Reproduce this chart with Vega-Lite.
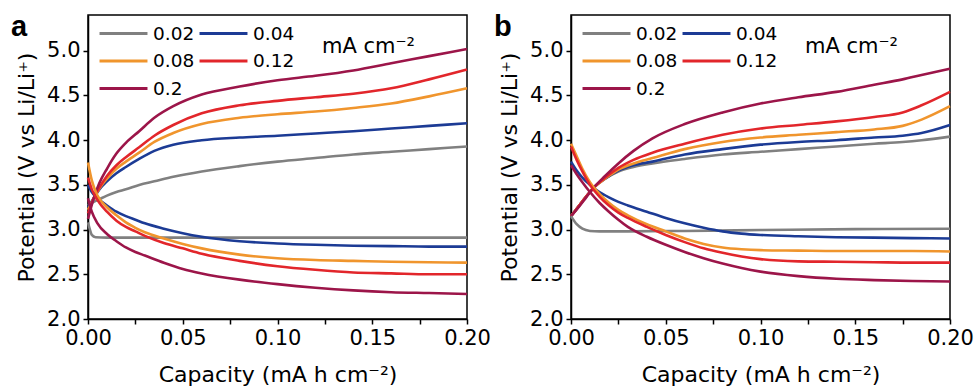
{
  "$schema": "https://vega.github.io/schema/vega-lite/v6.json",
  "padding": {"left": 10, "top": 12, "right": 10, "bottom": 4},
  "bounds": "flush",
  "spacing": 104,
  "datasets": {
    "curves": [
      {"panel":"a","rate":"0.02","branch":"charge","cap":0,"volt":3.27},
      {"panel":"a","rate":"0.02","branch":"charge","cap":0.003,"volt":3.31},
      {"panel":"a","rate":"0.02","branch":"charge","cap":0.006,"volt":3.34},
      {"panel":"a","rate":"0.02","branch":"charge","cap":0.01,"volt":3.38},
      {"panel":"a","rate":"0.02","branch":"charge","cap":0.015,"volt":3.42},
      {"panel":"a","rate":"0.02","branch":"charge","cap":0.02,"volt":3.45},
      {"panel":"a","rate":"0.02","branch":"charge","cap":0.027,"volt":3.5},
      {"panel":"a","rate":"0.02","branch":"charge","cap":0.035,"volt":3.54},
      {"panel":"a","rate":"0.02","branch":"charge","cap":0.045,"volt":3.59},
      {"panel":"a","rate":"0.02","branch":"charge","cap":0.06,"volt":3.65},
      {"panel":"a","rate":"0.02","branch":"charge","cap":0.08,"volt":3.71},
      {"panel":"a","rate":"0.02","branch":"charge","cap":0.1,"volt":3.76},
      {"panel":"a","rate":"0.02","branch":"charge","cap":0.12,"volt":3.8},
      {"panel":"a","rate":"0.02","branch":"charge","cap":0.14,"volt":3.84},
      {"panel":"a","rate":"0.02","branch":"charge","cap":0.16,"volt":3.87},
      {"panel":"a","rate":"0.02","branch":"charge","cap":0.18,"volt":3.9},
      {"panel":"a","rate":"0.02","branch":"charge","cap":0.2,"volt":3.93},

      {"panel":"a","rate":"0.04","branch":"charge","cap":0,"volt":3.25},
      {"panel":"a","rate":"0.04","branch":"charge","cap":0.003,"volt":3.35},
      {"panel":"a","rate":"0.04","branch":"charge","cap":0.006,"volt":3.45},
      {"panel":"a","rate":"0.04","branch":"charge","cap":0.01,"volt":3.54},
      {"panel":"a","rate":"0.04","branch":"charge","cap":0.015,"volt":3.63},
      {"panel":"a","rate":"0.04","branch":"charge","cap":0.02,"volt":3.7},
      {"panel":"a","rate":"0.04","branch":"charge","cap":0.027,"volt":3.79},
      {"panel":"a","rate":"0.04","branch":"charge","cap":0.035,"volt":3.88},
      {"panel":"a","rate":"0.04","branch":"charge","cap":0.045,"volt":3.95},
      {"panel":"a","rate":"0.04","branch":"charge","cap":0.06,"volt":4.0},
      {"panel":"a","rate":"0.04","branch":"charge","cap":0.08,"volt":4.03},
      {"panel":"a","rate":"0.04","branch":"charge","cap":0.1,"volt":4.05},
      {"panel":"a","rate":"0.04","branch":"charge","cap":0.12,"volt":4.075},
      {"panel":"a","rate":"0.04","branch":"charge","cap":0.14,"volt":4.1},
      {"panel":"a","rate":"0.04","branch":"charge","cap":0.16,"volt":4.13},
      {"panel":"a","rate":"0.04","branch":"charge","cap":0.18,"volt":4.16},
      {"panel":"a","rate":"0.04","branch":"charge","cap":0.2,"volt":4.19},

      {"panel":"a","rate":"0.08","branch":"charge","cap":0,"volt":3.22},
      {"panel":"a","rate":"0.08","branch":"charge","cap":0.003,"volt":3.35},
      {"panel":"a","rate":"0.08","branch":"charge","cap":0.006,"volt":3.46},
      {"panel":"a","rate":"0.08","branch":"charge","cap":0.01,"volt":3.57},
      {"panel":"a","rate":"0.08","branch":"charge","cap":0.015,"volt":3.68},
      {"panel":"a","rate":"0.08","branch":"charge","cap":0.02,"volt":3.76},
      {"panel":"a","rate":"0.08","branch":"charge","cap":0.027,"volt":3.86},
      {"panel":"a","rate":"0.08","branch":"charge","cap":0.035,"volt":3.98},
      {"panel":"a","rate":"0.08","branch":"charge","cap":0.045,"volt":4.08},
      {"panel":"a","rate":"0.08","branch":"charge","cap":0.06,"volt":4.18},
      {"panel":"a","rate":"0.08","branch":"charge","cap":0.08,"volt":4.25},
      {"panel":"a","rate":"0.08","branch":"charge","cap":0.1,"volt":4.29},
      {"panel":"a","rate":"0.08","branch":"charge","cap":0.12,"volt":4.32},
      {"panel":"a","rate":"0.08","branch":"charge","cap":0.14,"volt":4.36},
      {"panel":"a","rate":"0.08","branch":"charge","cap":0.16,"volt":4.41},
      {"panel":"a","rate":"0.08","branch":"charge","cap":0.18,"volt":4.49},
      {"panel":"a","rate":"0.08","branch":"charge","cap":0.2,"volt":4.58},

      {"panel":"a","rate":"0.12","branch":"charge","cap":0,"volt":3.18},
      {"panel":"a","rate":"0.12","branch":"charge","cap":0.003,"volt":3.35},
      {"panel":"a","rate":"0.12","branch":"charge","cap":0.006,"volt":3.47},
      {"panel":"a","rate":"0.12","branch":"charge","cap":0.01,"volt":3.6},
      {"panel":"a","rate":"0.12","branch":"charge","cap":0.015,"volt":3.72},
      {"panel":"a","rate":"0.12","branch":"charge","cap":0.02,"volt":3.81},
      {"panel":"a","rate":"0.12","branch":"charge","cap":0.027,"volt":3.92},
      {"panel":"a","rate":"0.12","branch":"charge","cap":0.035,"volt":4.05},
      {"panel":"a","rate":"0.12","branch":"charge","cap":0.045,"volt":4.17},
      {"panel":"a","rate":"0.12","branch":"charge","cap":0.06,"volt":4.3},
      {"panel":"a","rate":"0.12","branch":"charge","cap":0.08,"volt":4.39},
      {"panel":"a","rate":"0.12","branch":"charge","cap":0.1,"volt":4.44},
      {"panel":"a","rate":"0.12","branch":"charge","cap":0.12,"volt":4.48},
      {"panel":"a","rate":"0.12","branch":"charge","cap":0.14,"volt":4.52},
      {"panel":"a","rate":"0.12","branch":"charge","cap":0.16,"volt":4.58},
      {"panel":"a","rate":"0.12","branch":"charge","cap":0.18,"volt":4.68},
      {"panel":"a","rate":"0.12","branch":"charge","cap":0.2,"volt":4.79},

      {"panel":"a","rate":"0.2","branch":"charge","cap":0,"volt":3.12},
      {"panel":"a","rate":"0.2","branch":"charge","cap":0.003,"volt":3.35},
      {"panel":"a","rate":"0.2","branch":"charge","cap":0.006,"volt":3.52},
      {"panel":"a","rate":"0.2","branch":"charge","cap":0.01,"volt":3.68},
      {"panel":"a","rate":"0.2","branch":"charge","cap":0.015,"volt":3.85},
      {"panel":"a","rate":"0.2","branch":"charge","cap":0.02,"volt":3.97},
      {"panel":"a","rate":"0.2","branch":"charge","cap":0.027,"volt":4.1},
      {"panel":"a","rate":"0.2","branch":"charge","cap":0.035,"volt":4.25},
      {"panel":"a","rate":"0.2","branch":"charge","cap":0.045,"volt":4.38},
      {"panel":"a","rate":"0.2","branch":"charge","cap":0.06,"volt":4.51},
      {"panel":"a","rate":"0.2","branch":"charge","cap":0.08,"volt":4.6},
      {"panel":"a","rate":"0.2","branch":"charge","cap":0.1,"volt":4.67},
      {"panel":"a","rate":"0.2","branch":"charge","cap":0.12,"volt":4.72},
      {"panel":"a","rate":"0.2","branch":"charge","cap":0.14,"volt":4.78},
      {"panel":"a","rate":"0.2","branch":"charge","cap":0.16,"volt":4.86},
      {"panel":"a","rate":"0.2","branch":"charge","cap":0.18,"volt":4.94},
      {"panel":"a","rate":"0.2","branch":"charge","cap":0.2,"volt":5.02},

      {"panel":"a","rate":"0.02","branch":"discharge","cap":0,"volt":3.08},
      {"panel":"a","rate":"0.02","branch":"discharge","cap":0.001,"volt":3.0},
      {"panel":"a","rate":"0.02","branch":"discharge","cap":0.002,"volt":2.94},
      {"panel":"a","rate":"0.02","branch":"discharge","cap":0.004,"volt":2.915},
      {"panel":"a","rate":"0.02","branch":"discharge","cap":0.01,"volt":2.91},
      {"panel":"a","rate":"0.02","branch":"discharge","cap":0.05,"volt":2.91},
      {"panel":"a","rate":"0.02","branch":"discharge","cap":0.1,"volt":2.91},
      {"panel":"a","rate":"0.02","branch":"discharge","cap":0.15,"volt":2.91},
      {"panel":"a","rate":"0.02","branch":"discharge","cap":0.2,"volt":2.91},

      {"panel":"a","rate":"0.04","branch":"discharge","cap":0,"volt":3.5},
      {"panel":"a","rate":"0.04","branch":"discharge","cap":0.002,"volt":3.42},
      {"panel":"a","rate":"0.04","branch":"discharge","cap":0.005,"volt":3.35},
      {"panel":"a","rate":"0.04","branch":"discharge","cap":0.01,"volt":3.27},
      {"panel":"a","rate":"0.04","branch":"discharge","cap":0.015,"volt":3.2},
      {"panel":"a","rate":"0.04","branch":"discharge","cap":0.02,"volt":3.15},
      {"panel":"a","rate":"0.04","branch":"discharge","cap":0.025,"volt":3.11},
      {"panel":"a","rate":"0.04","branch":"discharge","cap":0.03,"volt":3.07},
      {"panel":"a","rate":"0.04","branch":"discharge","cap":0.04,"volt":3.01},
      {"panel":"a","rate":"0.04","branch":"discharge","cap":0.05,"volt":2.96},
      {"panel":"a","rate":"0.04","branch":"discharge","cap":0.06,"volt":2.92},
      {"panel":"a","rate":"0.04","branch":"discharge","cap":0.08,"volt":2.87},
      {"panel":"a","rate":"0.04","branch":"discharge","cap":0.1,"volt":2.845},
      {"panel":"a","rate":"0.04","branch":"discharge","cap":0.12,"volt":2.83},
      {"panel":"a","rate":"0.04","branch":"discharge","cap":0.14,"volt":2.82},
      {"panel":"a","rate":"0.04","branch":"discharge","cap":0.16,"volt":2.815},
      {"panel":"a","rate":"0.04","branch":"discharge","cap":0.18,"volt":2.81},
      {"panel":"a","rate":"0.04","branch":"discharge","cap":0.2,"volt":2.81},

      {"panel":"a","rate":"0.08","branch":"discharge","cap":0,"volt":3.75},
      {"panel":"a","rate":"0.08","branch":"discharge","cap":0.002,"volt":3.55},
      {"panel":"a","rate":"0.08","branch":"discharge","cap":0.005,"volt":3.38},
      {"panel":"a","rate":"0.08","branch":"discharge","cap":0.01,"volt":3.25},
      {"panel":"a","rate":"0.08","branch":"discharge","cap":0.015,"volt":3.16},
      {"panel":"a","rate":"0.08","branch":"discharge","cap":0.02,"volt":3.08},
      {"panel":"a","rate":"0.08","branch":"discharge","cap":0.025,"volt":3.02},
      {"panel":"a","rate":"0.08","branch":"discharge","cap":0.03,"volt":2.97},
      {"panel":"a","rate":"0.08","branch":"discharge","cap":0.04,"volt":2.9},
      {"panel":"a","rate":"0.08","branch":"discharge","cap":0.05,"volt":2.84},
      {"panel":"a","rate":"0.08","branch":"discharge","cap":0.06,"volt":2.79},
      {"panel":"a","rate":"0.08","branch":"discharge","cap":0.08,"volt":2.72},
      {"panel":"a","rate":"0.08","branch":"discharge","cap":0.1,"volt":2.68},
      {"panel":"a","rate":"0.08","branch":"discharge","cap":0.12,"volt":2.66},
      {"panel":"a","rate":"0.08","branch":"discharge","cap":0.14,"volt":2.65},
      {"panel":"a","rate":"0.08","branch":"discharge","cap":0.16,"volt":2.64},
      {"panel":"a","rate":"0.08","branch":"discharge","cap":0.18,"volt":2.635},
      {"panel":"a","rate":"0.08","branch":"discharge","cap":0.2,"volt":2.63},

      {"panel":"a","rate":"0.12","branch":"discharge","cap":0,"volt":3.58},
      {"panel":"a","rate":"0.12","branch":"discharge","cap":0.002,"volt":3.45},
      {"panel":"a","rate":"0.12","branch":"discharge","cap":0.005,"volt":3.33},
      {"panel":"a","rate":"0.12","branch":"discharge","cap":0.01,"volt":3.2},
      {"panel":"a","rate":"0.12","branch":"discharge","cap":0.015,"volt":3.1},
      {"panel":"a","rate":"0.12","branch":"discharge","cap":0.02,"volt":3.03},
      {"panel":"a","rate":"0.12","branch":"discharge","cap":0.025,"volt":2.98},
      {"panel":"a","rate":"0.12","branch":"discharge","cap":0.03,"volt":2.93},
      {"panel":"a","rate":"0.12","branch":"discharge","cap":0.04,"volt":2.85},
      {"panel":"a","rate":"0.12","branch":"discharge","cap":0.05,"volt":2.79},
      {"panel":"a","rate":"0.12","branch":"discharge","cap":0.06,"volt":2.73},
      {"panel":"a","rate":"0.12","branch":"discharge","cap":0.08,"volt":2.65},
      {"panel":"a","rate":"0.12","branch":"discharge","cap":0.1,"volt":2.59},
      {"panel":"a","rate":"0.12","branch":"discharge","cap":0.12,"volt":2.55},
      {"panel":"a","rate":"0.12","branch":"discharge","cap":0.14,"volt":2.52},
      {"panel":"a","rate":"0.12","branch":"discharge","cap":0.16,"volt":2.51},
      {"panel":"a","rate":"0.12","branch":"discharge","cap":0.18,"volt":2.5},
      {"panel":"a","rate":"0.12","branch":"discharge","cap":0.2,"volt":2.5},

      {"panel":"a","rate":"0.2","branch":"discharge","cap":0,"volt":3.35},
      {"panel":"a","rate":"0.2","branch":"discharge","cap":0.002,"volt":3.2},
      {"panel":"a","rate":"0.2","branch":"discharge","cap":0.005,"volt":3.07},
      {"panel":"a","rate":"0.2","branch":"discharge","cap":0.01,"volt":2.95},
      {"panel":"a","rate":"0.2","branch":"discharge","cap":0.015,"volt":2.87},
      {"panel":"a","rate":"0.2","branch":"discharge","cap":0.02,"volt":2.8},
      {"panel":"a","rate":"0.2","branch":"discharge","cap":0.025,"volt":2.75},
      {"panel":"a","rate":"0.2","branch":"discharge","cap":0.03,"volt":2.71},
      {"panel":"a","rate":"0.2","branch":"discharge","cap":0.04,"volt":2.63},
      {"panel":"a","rate":"0.2","branch":"discharge","cap":0.05,"volt":2.56},
      {"panel":"a","rate":"0.2","branch":"discharge","cap":0.06,"volt":2.51},
      {"panel":"a","rate":"0.2","branch":"discharge","cap":0.08,"volt":2.44},
      {"panel":"a","rate":"0.2","branch":"discharge","cap":0.1,"volt":2.39},
      {"panel":"a","rate":"0.2","branch":"discharge","cap":0.12,"volt":2.35},
      {"panel":"a","rate":"0.2","branch":"discharge","cap":0.14,"volt":2.32},
      {"panel":"a","rate":"0.2","branch":"discharge","cap":0.16,"volt":2.3},
      {"panel":"a","rate":"0.2","branch":"discharge","cap":0.18,"volt":2.29},
      {"panel":"a","rate":"0.2","branch":"discharge","cap":0.2,"volt":2.28},

      {"panel":"b","rate":"0.02","branch":"charge","cap":0,"volt":3.15},
      {"panel":"b","rate":"0.02","branch":"charge","cap":0.004,"volt":3.26},
      {"panel":"b","rate":"0.02","branch":"charge","cap":0.008,"volt":3.37},
      {"panel":"b","rate":"0.02","branch":"charge","cap":0.012,"volt":3.47},
      {"panel":"b","rate":"0.02","branch":"charge","cap":0.018,"volt":3.57},
      {"panel":"b","rate":"0.02","branch":"charge","cap":0.025,"volt":3.65},
      {"panel":"b","rate":"0.02","branch":"charge","cap":0.033,"volt":3.7},
      {"panel":"b","rate":"0.02","branch":"charge","cap":0.043,"volt":3.74},
      {"panel":"b","rate":"0.02","branch":"charge","cap":0.06,"volt":3.79},
      {"panel":"b","rate":"0.02","branch":"charge","cap":0.08,"volt":3.84},
      {"panel":"b","rate":"0.02","branch":"charge","cap":0.1,"volt":3.87},
      {"panel":"b","rate":"0.02","branch":"charge","cap":0.12,"volt":3.9},
      {"panel":"b","rate":"0.02","branch":"charge","cap":0.14,"volt":3.93},
      {"panel":"b","rate":"0.02","branch":"charge","cap":0.16,"volt":3.96},
      {"panel":"b","rate":"0.02","branch":"charge","cap":0.175,"volt":3.98},
      {"panel":"b","rate":"0.02","branch":"charge","cap":0.185,"volt":4.0},
      {"panel":"b","rate":"0.02","branch":"charge","cap":0.2,"volt":4.04},

      {"panel":"b","rate":"0.04","branch":"charge","cap":0,"volt":3.15},
      {"panel":"b","rate":"0.04","branch":"charge","cap":0.004,"volt":3.26},
      {"panel":"b","rate":"0.04","branch":"charge","cap":0.008,"volt":3.37},
      {"panel":"b","rate":"0.04","branch":"charge","cap":0.012,"volt":3.47},
      {"panel":"b","rate":"0.04","branch":"charge","cap":0.018,"volt":3.57},
      {"panel":"b","rate":"0.04","branch":"charge","cap":0.025,"volt":3.66},
      {"panel":"b","rate":"0.04","branch":"charge","cap":0.033,"volt":3.72},
      {"panel":"b","rate":"0.04","branch":"charge","cap":0.043,"volt":3.76},
      {"panel":"b","rate":"0.04","branch":"charge","cap":0.06,"volt":3.84},
      {"panel":"b","rate":"0.04","branch":"charge","cap":0.08,"volt":3.9},
      {"panel":"b","rate":"0.04","branch":"charge","cap":0.1,"volt":3.95},
      {"panel":"b","rate":"0.04","branch":"charge","cap":0.12,"volt":3.98},
      {"panel":"b","rate":"0.04","branch":"charge","cap":0.14,"volt":4.0},
      {"panel":"b","rate":"0.04","branch":"charge","cap":0.16,"volt":4.03},
      {"panel":"b","rate":"0.04","branch":"charge","cap":0.175,"volt":4.05},
      {"panel":"b","rate":"0.04","branch":"charge","cap":0.185,"volt":4.08},
      {"panel":"b","rate":"0.04","branch":"charge","cap":0.2,"volt":4.17},

      {"panel":"b","rate":"0.08","branch":"charge","cap":0,"volt":3.15},
      {"panel":"b","rate":"0.08","branch":"charge","cap":0.004,"volt":3.26},
      {"panel":"b","rate":"0.08","branch":"charge","cap":0.008,"volt":3.37},
      {"panel":"b","rate":"0.08","branch":"charge","cap":0.012,"volt":3.47},
      {"panel":"b","rate":"0.08","branch":"charge","cap":0.018,"volt":3.57},
      {"panel":"b","rate":"0.08","branch":"charge","cap":0.025,"volt":3.67},
      {"panel":"b","rate":"0.08","branch":"charge","cap":0.033,"volt":3.74},
      {"panel":"b","rate":"0.08","branch":"charge","cap":0.043,"volt":3.8},
      {"panel":"b","rate":"0.08","branch":"charge","cap":0.06,"volt":3.9},
      {"panel":"b","rate":"0.08","branch":"charge","cap":0.08,"volt":3.98},
      {"panel":"b","rate":"0.08","branch":"charge","cap":0.1,"volt":4.03},
      {"panel":"b","rate":"0.08","branch":"charge","cap":0.12,"volt":4.06},
      {"panel":"b","rate":"0.08","branch":"charge","cap":0.14,"volt":4.09},
      {"panel":"b","rate":"0.08","branch":"charge","cap":0.16,"volt":4.12},
      {"panel":"b","rate":"0.08","branch":"charge","cap":0.175,"volt":4.16},
      {"panel":"b","rate":"0.08","branch":"charge","cap":0.185,"volt":4.23},
      {"panel":"b","rate":"0.08","branch":"charge","cap":0.2,"volt":4.38},

      {"panel":"b","rate":"0.12","branch":"charge","cap":0,"volt":3.15},
      {"panel":"b","rate":"0.12","branch":"charge","cap":0.004,"volt":3.26},
      {"panel":"b","rate":"0.12","branch":"charge","cap":0.008,"volt":3.37},
      {"panel":"b","rate":"0.12","branch":"charge","cap":0.012,"volt":3.47},
      {"panel":"b","rate":"0.12","branch":"charge","cap":0.018,"volt":3.58},
      {"panel":"b","rate":"0.12","branch":"charge","cap":0.025,"volt":3.69},
      {"panel":"b","rate":"0.12","branch":"charge","cap":0.033,"volt":3.78},
      {"panel":"b","rate":"0.12","branch":"charge","cap":0.043,"volt":3.86},
      {"panel":"b","rate":"0.12","branch":"charge","cap":0.06,"volt":3.96},
      {"panel":"b","rate":"0.12","branch":"charge","cap":0.08,"volt":4.06},
      {"panel":"b","rate":"0.12","branch":"charge","cap":0.1,"volt":4.13},
      {"panel":"b","rate":"0.12","branch":"charge","cap":0.12,"volt":4.17},
      {"panel":"b","rate":"0.12","branch":"charge","cap":0.14,"volt":4.21},
      {"panel":"b","rate":"0.12","branch":"charge","cap":0.16,"volt":4.26},
      {"panel":"b","rate":"0.12","branch":"charge","cap":0.175,"volt":4.31},
      {"panel":"b","rate":"0.12","branch":"charge","cap":0.185,"volt":4.39},
      {"panel":"b","rate":"0.12","branch":"charge","cap":0.2,"volt":4.54},

      {"panel":"b","rate":"0.2","branch":"charge","cap":0,"volt":3.15},
      {"panel":"b","rate":"0.2","branch":"charge","cap":0.004,"volt":3.25},
      {"panel":"b","rate":"0.2","branch":"charge","cap":0.008,"volt":3.36},
      {"panel":"b","rate":"0.2","branch":"charge","cap":0.012,"volt":3.47},
      {"panel":"b","rate":"0.2","branch":"charge","cap":0.018,"volt":3.6},
      {"panel":"b","rate":"0.2","branch":"charge","cap":0.025,"volt":3.74},
      {"panel":"b","rate":"0.2","branch":"charge","cap":0.033,"volt":3.88},
      {"panel":"b","rate":"0.2","branch":"charge","cap":0.043,"volt":4.02},
      {"panel":"b","rate":"0.2","branch":"charge","cap":0.06,"volt":4.18},
      {"panel":"b","rate":"0.2","branch":"charge","cap":0.08,"volt":4.31},
      {"panel":"b","rate":"0.2","branch":"charge","cap":0.1,"volt":4.41},
      {"panel":"b","rate":"0.2","branch":"charge","cap":0.12,"volt":4.48},
      {"panel":"b","rate":"0.2","branch":"charge","cap":0.14,"volt":4.54},
      {"panel":"b","rate":"0.2","branch":"charge","cap":0.16,"volt":4.62},
      {"panel":"b","rate":"0.2","branch":"charge","cap":0.175,"volt":4.68},
      {"panel":"b","rate":"0.2","branch":"charge","cap":0.185,"volt":4.73},
      {"panel":"b","rate":"0.2","branch":"charge","cap":0.2,"volt":4.8},

      {"panel":"b","rate":"0.02","branch":"discharge","cap":0,"volt":3.15},
      {"panel":"b","rate":"0.02","branch":"discharge","cap":0.003,"volt":3.06},
      {"panel":"b","rate":"0.02","branch":"discharge","cap":0.006,"volt":3.01},
      {"panel":"b","rate":"0.02","branch":"discharge","cap":0.01,"volt":2.985},
      {"panel":"b","rate":"0.02","branch":"discharge","cap":0.015,"volt":2.98},
      {"panel":"b","rate":"0.02","branch":"discharge","cap":0.03,"volt":2.98},
      {"panel":"b","rate":"0.02","branch":"discharge","cap":0.06,"volt":2.985},
      {"panel":"b","rate":"0.02","branch":"discharge","cap":0.1,"volt":2.995},
      {"panel":"b","rate":"0.02","branch":"discharge","cap":0.15,"volt":3.005},
      {"panel":"b","rate":"0.02","branch":"discharge","cap":0.2,"volt":3.01},

      {"panel":"b","rate":"0.04","branch":"discharge","cap":0,"volt":3.76},
      {"panel":"b","rate":"0.04","branch":"discharge","cap":0.003,"volt":3.66},
      {"panel":"b","rate":"0.04","branch":"discharge","cap":0.006,"volt":3.58},
      {"panel":"b","rate":"0.04","branch":"discharge","cap":0.01,"volt":3.5},
      {"panel":"b","rate":"0.04","branch":"discharge","cap":0.015,"volt":3.42},
      {"panel":"b","rate":"0.04","branch":"discharge","cap":0.02,"volt":3.36},
      {"panel":"b","rate":"0.04","branch":"discharge","cap":0.025,"volt":3.31},
      {"panel":"b","rate":"0.04","branch":"discharge","cap":0.03,"volt":3.27},
      {"panel":"b","rate":"0.04","branch":"discharge","cap":0.04,"volt":3.2},
      {"panel":"b","rate":"0.04","branch":"discharge","cap":0.05,"volt":3.13},
      {"panel":"b","rate":"0.04","branch":"discharge","cap":0.06,"volt":3.07},
      {"panel":"b","rate":"0.04","branch":"discharge","cap":0.07,"volt":3.02},
      {"panel":"b","rate":"0.04","branch":"discharge","cap":0.08,"volt":2.98},
      {"panel":"b","rate":"0.04","branch":"discharge","cap":0.09,"volt":2.955},
      {"panel":"b","rate":"0.04","branch":"discharge","cap":0.1,"volt":2.94},
      {"panel":"b","rate":"0.04","branch":"discharge","cap":0.12,"volt":2.925},
      {"panel":"b","rate":"0.04","branch":"discharge","cap":0.14,"volt":2.915},
      {"panel":"b","rate":"0.04","branch":"discharge","cap":0.16,"volt":2.91},
      {"panel":"b","rate":"0.04","branch":"discharge","cap":0.18,"volt":2.905},
      {"panel":"b","rate":"0.04","branch":"discharge","cap":0.2,"volt":2.9},

      {"panel":"b","rate":"0.08","branch":"discharge","cap":0,"volt":3.96},
      {"panel":"b","rate":"0.08","branch":"discharge","cap":0.003,"volt":3.82},
      {"panel":"b","rate":"0.08","branch":"discharge","cap":0.006,"volt":3.68},
      {"panel":"b","rate":"0.08","branch":"discharge","cap":0.01,"volt":3.53},
      {"panel":"b","rate":"0.08","branch":"discharge","cap":0.015,"volt":3.4},
      {"panel":"b","rate":"0.08","branch":"discharge","cap":0.02,"volt":3.3},
      {"panel":"b","rate":"0.08","branch":"discharge","cap":0.025,"volt":3.22},
      {"panel":"b","rate":"0.08","branch":"discharge","cap":0.03,"volt":3.16},
      {"panel":"b","rate":"0.08","branch":"discharge","cap":0.04,"volt":3.06},
      {"panel":"b","rate":"0.08","branch":"discharge","cap":0.05,"volt":2.98},
      {"panel":"b","rate":"0.08","branch":"discharge","cap":0.06,"volt":2.9},
      {"panel":"b","rate":"0.08","branch":"discharge","cap":0.07,"volt":2.84},
      {"panel":"b","rate":"0.08","branch":"discharge","cap":0.08,"volt":2.8},
      {"panel":"b","rate":"0.08","branch":"discharge","cap":0.09,"volt":2.78},
      {"panel":"b","rate":"0.08","branch":"discharge","cap":0.1,"volt":2.77},
      {"panel":"b","rate":"0.08","branch":"discharge","cap":0.12,"volt":2.765},
      {"panel":"b","rate":"0.08","branch":"discharge","cap":0.14,"volt":2.76},
      {"panel":"b","rate":"0.08","branch":"discharge","cap":0.16,"volt":2.76},
      {"panel":"b","rate":"0.08","branch":"discharge","cap":0.18,"volt":2.76},
      {"panel":"b","rate":"0.08","branch":"discharge","cap":0.2,"volt":2.755},

      {"panel":"b","rate":"0.12","branch":"discharge","cap":0,"volt":3.93},
      {"panel":"b","rate":"0.12","branch":"discharge","cap":0.003,"volt":3.78},
      {"panel":"b","rate":"0.12","branch":"discharge","cap":0.006,"volt":3.65},
      {"panel":"b","rate":"0.12","branch":"discharge","cap":0.01,"volt":3.5},
      {"panel":"b","rate":"0.12","branch":"discharge","cap":0.015,"volt":3.37},
      {"panel":"b","rate":"0.12","branch":"discharge","cap":0.02,"volt":3.27},
      {"panel":"b","rate":"0.12","branch":"discharge","cap":0.025,"volt":3.19},
      {"panel":"b","rate":"0.12","branch":"discharge","cap":0.03,"volt":3.13},
      {"panel":"b","rate":"0.12","branch":"discharge","cap":0.04,"volt":3.03},
      {"panel":"b","rate":"0.12","branch":"discharge","cap":0.05,"volt":2.94},
      {"panel":"b","rate":"0.12","branch":"discharge","cap":0.06,"volt":2.86},
      {"panel":"b","rate":"0.12","branch":"discharge","cap":0.07,"volt":2.79},
      {"panel":"b","rate":"0.12","branch":"discharge","cap":0.08,"volt":2.74},
      {"panel":"b","rate":"0.12","branch":"discharge","cap":0.09,"volt":2.7},
      {"panel":"b","rate":"0.12","branch":"discharge","cap":0.1,"volt":2.67},
      {"panel":"b","rate":"0.12","branch":"discharge","cap":0.12,"volt":2.645},
      {"panel":"b","rate":"0.12","branch":"discharge","cap":0.14,"volt":2.64},
      {"panel":"b","rate":"0.12","branch":"discharge","cap":0.16,"volt":2.635},
      {"panel":"b","rate":"0.12","branch":"discharge","cap":0.18,"volt":2.63},
      {"panel":"b","rate":"0.12","branch":"discharge","cap":0.2,"volt":2.63},

      {"panel":"b","rate":"0.2","branch":"discharge","cap":0,"volt":3.72},
      {"panel":"b","rate":"0.2","branch":"discharge","cap":0.003,"volt":3.62},
      {"panel":"b","rate":"0.2","branch":"discharge","cap":0.006,"volt":3.53},
      {"panel":"b","rate":"0.2","branch":"discharge","cap":0.01,"volt":3.42},
      {"panel":"b","rate":"0.2","branch":"discharge","cap":0.015,"volt":3.3},
      {"panel":"b","rate":"0.2","branch":"discharge","cap":0.02,"volt":3.2},
      {"panel":"b","rate":"0.2","branch":"discharge","cap":0.025,"volt":3.11},
      {"panel":"b","rate":"0.2","branch":"discharge","cap":0.03,"volt":3.03},
      {"panel":"b","rate":"0.2","branch":"discharge","cap":0.04,"volt":2.92},
      {"panel":"b","rate":"0.2","branch":"discharge","cap":0.05,"volt":2.83},
      {"panel":"b","rate":"0.2","branch":"discharge","cap":0.06,"volt":2.75},
      {"panel":"b","rate":"0.2","branch":"discharge","cap":0.07,"volt":2.68},
      {"panel":"b","rate":"0.2","branch":"discharge","cap":0.08,"volt":2.62},
      {"panel":"b","rate":"0.2","branch":"discharge","cap":0.09,"volt":2.57},
      {"panel":"b","rate":"0.2","branch":"discharge","cap":0.1,"volt":2.53},
      {"panel":"b","rate":"0.2","branch":"discharge","cap":0.12,"volt":2.48},
      {"panel":"b","rate":"0.2","branch":"discharge","cap":0.14,"volt":2.45},
      {"panel":"b","rate":"0.2","branch":"discharge","cap":0.16,"volt":2.435},
      {"panel":"b","rate":"0.2","branch":"discharge","cap":0.18,"volt":2.425},
      {"panel":"b","rate":"0.2","branch":"discharge","cap":0.2,"volt":2.42}
    ]
  },
  "hconcat": [
    {
      "width": 379,
      "height": 304,
      "layer": [
        {
          "data": {"name": "curves"},
          "transform": [{"filter": "datum.panel == 'a'"}],
          "mark": {"type": "line", "strokeWidth": 2.6, "interpolate": "monotone"},
          "encoding": {
            "x": {"field": "cap", "type": "quantitative", "scale": {"domain": [0, 0.2], "nice": false},
              "axis": {"title": "Capacity (mA h cm⁻²)", "values": [0, 0.025, 0.05, 0.075, 0.1, 0.125, 0.15, 0.175, 0.2],
                "labelExpr": "round(datum.value * 1000) % 50 == 0 ? format(datum.value, '.2f') : ''"}},
            "y": {"field": "volt", "type": "quantitative", "scale": {"domain": [2, 5.4], "nice": false, "zero": false},
              "axis": {"title": "Potential (V vs Li/Li⁺)", "values": [2, 2.25, 2.5, 2.75, 3, 3.25, 3.5, 3.75, 4, 4.25, 4.5, 4.75, 5, 5.25],
                "labelExpr": "datum.value % 0.5 == 0 ? format(datum.value, '.1f') : ''"}},
            "color": {"field": "rate", "type": "nominal",
              "scale": {"domain": ["0.02", "0.04", "0.08", "0.12", "0.2"], "range": ["#808080", "#1c3b95", "#f0952d", "#e2262b", "#9c1549"]}},
            "detail": {"field": "branch"}
          }
        },
        {
          "data": {"values": [{}]},
          "mark": {"type": "text", "font": "DejaVu Sans", "fontSize": 21, "align": "center", "baseline": "alphabetic", "color": "black"},
          "encoding": {"x": {"datum": 0.148, "type": "quantitative"}, "y": {"datum": 4.97, "type": "quantitative"}, "text": {"value": "mA cm⁻²"}}
        },
        {
          "data": {"values": [{}]},
          "mark": {"type": "text", "font": "Liberation Sans", "fontSize": 29, "fontWeight": "bold", "align": "left", "baseline": "alphabetic", "color": "black"},
          "encoding": {"x": {"datum": -0.0406, "type": "quantitative"}, "y": {"datum": 5.165, "type": "quantitative"}, "text": {"value": "a"}}
        }
      ]
    },
    {
      "width": 379,
      "height": 304,
      "layer": [
        {
          "data": {"name": "curves"},
          "transform": [{"filter": "datum.panel == 'b'"}],
          "mark": {"type": "line", "strokeWidth": 2.6, "interpolate": "monotone"},
          "encoding": {
            "x": {"field": "cap", "type": "quantitative", "scale": {"domain": [0, 0.2], "nice": false},
              "axis": {"title": "Capacity (mA h cm⁻²)", "values": [0, 0.025, 0.05, 0.075, 0.1, 0.125, 0.15, 0.175, 0.2],
                "labelExpr": "round(datum.value * 1000) % 50 == 0 ? format(datum.value, '.2f') : ''"}},
            "y": {"field": "volt", "type": "quantitative", "scale": {"domain": [2, 5.4], "nice": false, "zero": false},
              "axis": {"title": "Potential (V vs Li/Li⁺)", "values": [2, 2.25, 2.5, 2.75, 3, 3.25, 3.5, 3.75, 4, 4.25, 4.5, 4.75, 5, 5.25],
                "labelExpr": "datum.value % 0.5 == 0 ? format(datum.value, '.1f') : ''"}},
            "color": {"field": "rate", "type": "nominal",
              "scale": {"domain": ["0.02", "0.04", "0.08", "0.12", "0.2"], "range": ["#808080", "#1c3b95", "#f0952d", "#e2262b", "#9c1549"]}},
            "detail": {"field": "branch"}
          }
        },
        {
          "data": {"values": [{}]},
          "mark": {"type": "text", "font": "DejaVu Sans", "fontSize": 21, "align": "center", "baseline": "alphabetic", "color": "black"},
          "encoding": {"x": {"datum": 0.148, "type": "quantitative"}, "y": {"datum": 4.97, "type": "quantitative"}, "text": {"value": "mA cm⁻²"}}
        },
        {
          "data": {"values": [{}]},
          "mark": {"type": "text", "font": "Liberation Sans", "fontSize": 29, "fontWeight": "bold", "align": "left", "baseline": "alphabetic", "color": "black"},
          "encoding": {"x": {"datum": -0.0406, "type": "quantitative"}, "y": {"datum": 5.165, "type": "quantitative"}, "text": {"value": "b"}}
        }
      ]
    }
  ],
  "resolve": {"scale": {"color": "independent"}, "legend": {"color": "independent"}},
  "config": {
    "view": {"stroke": "black", "strokeWidth": 1.5},
    "axis": {
      "grid": false,
      "domainColor": "black", "domainWidth": 1.5,
      "tickColor": "black", "tickWidth": 1.5, "tickSize": 5,
      "labelFont": "DejaVu Sans", "labelFontSize": 21, "labelColor": "black", "labelPadding": 3,
      "labelOverlap": false, "labelFlush": false, "labelBound": false,
      "titleFont": "DejaVu Sans", "titleFontSize": 22, "titleFontWeight": "normal", "titleColor": "black", "titlePadding": 8
    },
    "axisX": {"titlePadding": 16},
    "legend": {
      "orient": "none", "legendX": 10, "legendY": 5, "direction": "horizontal", "columns": 2, "title": null,
      "symbolType": "stroke", "symbolSize": 2300, "symbolStrokeWidth": 3, "clipHeight": 27,
      "labelFont": "DejaVu Sans", "labelFontSize": 18.5, "labelColor": "black", "labelOffset": 4,
      "columnPadding": 3, "rowPadding": 0.5, "padding": 0
    }
  }
}
